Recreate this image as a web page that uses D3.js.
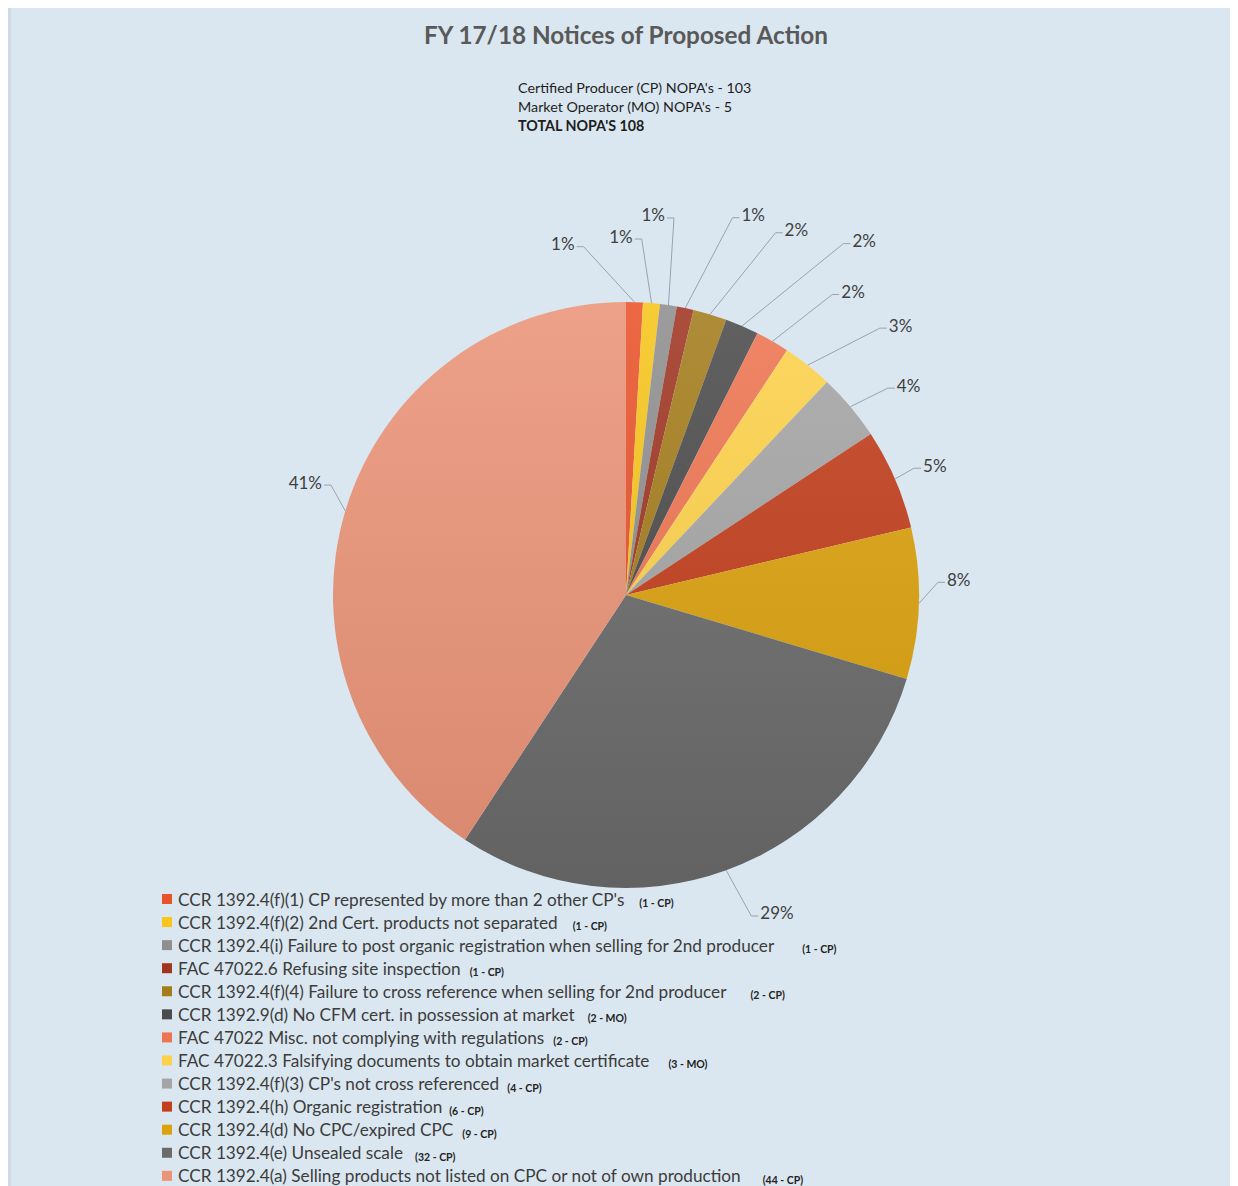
<!DOCTYPE html>
<html>
<head>
<meta charset="utf-8">
<script src="https://cdn.jsdelivr.net/npm/d3@7"></script>
<style>
    html, body { margin: 0; padding: 0; background: #ffffff; }
    svg { display: block; }
    text { font-family: Lato, "Open Sans", sans-serif; }
</style>
</head>
<body>
<svg id="chart" width="1238" height="1186"></svg>
<script>
"use strict";

var title = 'FY 17/18 Notices of Proposed Action';

var headerLines = [
    { text: "Certified Producer (CP) NOPA's - 103", bold: false },
    { text: "Market Operator (MO) NOPA's - 5", bold: false },
    { text: "TOTAL NOPA'S 108", bold: true }
];

var categories = [
    "CCR 1392.4(f)(1) CP represented by more than 2 other CP's",
    "CCR 1392.4(f)(2) 2nd Cert. products not separated",
    "CCR 1392.4(i) Failure to post organic registration when selling for 2nd producer",
    "FAC 47022.6 Refusing site inspection",
    "CCR 1392.4(f)(4) Failure to cross reference when selling for 2nd producer",
    "CCR 1392.9(d) No CFM cert. in possession at market",
    "FAC 47022 Misc. not complying with regulations",
    "FAC 47022.3 Falsifying documents to obtain market certificate",
    "CCR 1392.4(f)(3) CP's not cross referenced",
    "CCR 1392.4(h) Organic registration",
    "CCR 1392.4(d) No CPC/expired CPC",
    "CCR 1392.4(e) Unsealed scale",
    "CCR 1392.4(a) Selling products not listed on CPC or not of own production"
];

var counts = [1, 1, 1, 1, 2, 2, 2, 3, 4, 6, 9, 32, 44];

var countTags = ['(1 - CP)', '(1 - CP)', '(1 - CP)', '(1 - CP)', '(2 - CP)', '(2 - MO)', '(2 - CP)',
    '(3 - MO)', '(4 - CP)', '(6 - CP)', '(9 - CP)', '(32 - CP)', '(44 - CP)'];

var percentLabels = ['1%', '1%', '1%', '1%', '2%', '2%', '2%', '3%', '4%', '5%', '8%', '29%', '41%'];

var colors = ['#e9532c', '#f7c51c', '#8f8f8f', '#a03622', '#a47c1c', '#4b4b4b', '#ee7552',
    '#fdd24a', '#a5a5a5', '#c23e1c', '#dca20e', '#6b6b6b', '#eb9478'];

// layout only: where the data labels sit (angle in degrees, distance from centre)
var labelPolar = [[-10.2, 357], [-0.8, 359], [4.1, 381], [18.5, 401], [25, 403], [33.9, 427], [36.8, 379],
    [45.5, 385], [53.4, 352], [67.2, 335], [87.3, 333], [154.6, 352], [289.4, 340]];

// layout only: gap between legend text and its count tag
var tagGaps = [15, 15, 28, 9, 24, 13, 9, 19, 8, 7, 9, 12, 22];

var width = 1238,
    height = 1186,
    cx = 626,
    cy = 595,
    radius = 293;

var svg = d3.select('#chart');

svg.append('rect')
    .attr('x', 8)
    .attr('y', 8)
    .attr('width', 1222)
    .attr('height', height)
    .attr('fill', '#dae7f0');

svg.append('rect')
    .attr('x', 8)
    .attr('y', 8)
    .attr('width', 3)
    .attr('height', height)
    .attr('fill', '#cfdbe4');

svg.append('text')
    .attr('x', cx)
    .attr('y', 44)
    .attr('text-anchor', 'middle')
    .attr('font-size', 24.3)
    .attr('font-weight', 'bold')
    .attr('fill', '#595959')
    .text(title);

svg.append('g')
    .selectAll('text')
    .data(headerLines)
    .join('text')
    .attr('x', 518)
    .attr('y', function(d, i) { return 93 + i * 19; })
    .attr('font-size', 14.3)
    .attr('font-weight', function(d) { return d.bold ? 'bold' : 'normal'; })
    .attr('fill', '#1e1e1e')
    .text(function(d) { return d.text; });

// gradients, lighter at the top of the pie
var defs = svg.append('defs');
defs.selectAll('linearGradient')
    .data(colors)
    .join('linearGradient')
    .attr('id', function(d, i) { return 'grad' + i; })
    .attr('gradientUnits', 'userSpaceOnUse')
    .attr('x1', 0).attr('x2', 0)
    .attr('y1', -radius).attr('y2', radius)
    .each(function(c) {
        var g = d3.select(this);
        g.append('stop').attr('offset', 0).attr('stop-color', d3.interpolateRgb(c, '#ffffff')(0.12));
        g.append('stop').attr('offset', 1).attr('stop-color', d3.interpolateRgb(c, '#000000')(0.08));
    });

var pie = d3.pie().sort(null).value(function(d) { return d; });
var arc = d3.arc().innerRadius(0).outerRadius(radius);
var arcs = pie(counts);

var pieGroup = svg.append('g')
    .attr('transform', 'translate(' + cx + ',' + cy + ')');

pieGroup.selectAll('path.slice')
    .data(arcs)
    .join('path')
    .attr('class', 'slice')
    .attr('d', arc)
    .attr('fill', function(d, i) { return 'url(#grad' + i + ')'; });

function polar(angleDeg, r) {
    var a = angleDeg * Math.PI / 180;
    return [r * Math.sin(a), -r * Math.cos(a)];
}

var labels = pieGroup.selectAll('text.pct')
    .data(arcs)
    .join('text')
    .attr('class', 'pct')
    .attr('x', function(d, i) { return polar(labelPolar[i][0], labelPolar[i][1])[0]; })
    .attr('y', function(d, i) { return polar(labelPolar[i][0], labelPolar[i][1])[1]; })
    .attr('text-anchor', 'middle')
    .attr('dominant-baseline', 'central')
    .attr('font-size', 17)
    .attr('fill', '#404040')
    .text(function(d, i) { return percentLabels[i]; });

// leader lines from slice edge to label
labels.each(function(d, i) {
    var box = this.getBBox();
    var mid = (d.startAngle + d.endAngle) / 2 * 180 / Math.PI;
    var p = polar(mid, radius);
    var midY = box.y + box.height / 2 + 3;
    var onLeft = box.x + box.width / 2 < p[0];
    var ax = onLeft ? box.x + box.width + 2 : box.x - 2;
    var ex = onLeft ? ax + 7 : ax - 7;
    pieGroup.insert('polyline', 'text.pct')
        .attr('points', [p, [ex, midY], [ax, midY]].map(function(q) { return q.join(','); }).join(' '))
        .attr('fill', 'none')
        .attr('stroke', '#97a3ad')
        .attr('stroke-width', 1);
});

// legend
var legend = svg.append('g')
    .attr('transform', 'translate(162,899)');

var rows = legend.selectAll('g.row')
    .data(categories)
    .join('g')
    .attr('class', 'row')
    .attr('transform', function(d, i) { return 'translate(0,' + (i * 23.07) + ')'; });

rows.append('rect')
    .attr('x', 0)
    .attr('y', -5)
    .attr('width', 10)
    .attr('height', 10)
    .attr('fill', function(d, i) { return colors[i]; });

rows.append('text')
    .attr('class', 'name')
    .attr('x', 16)
    .attr('y', 0)
    .attr('dominant-baseline', 'central')
    .attr('font-size', 17.2)
    .attr('fill', '#3c3c3c')
    .text(function(d) { return d; });

rows.each(function(d, i) {
    var row = d3.select(this);
    var w = row.select('text.name').node().getComputedTextLength();
    row.append('text')
        .attr('x', 16 + w + tagGaps[i])
        .attr('y', 4)
        .attr('dominant-baseline', 'central')
        .attr('font-size', 10.5)
        .attr('font-weight', 'bold')
        .attr('fill', '#222222')
        .text(countTags[i]);
});
</script>
</body>
</html>
